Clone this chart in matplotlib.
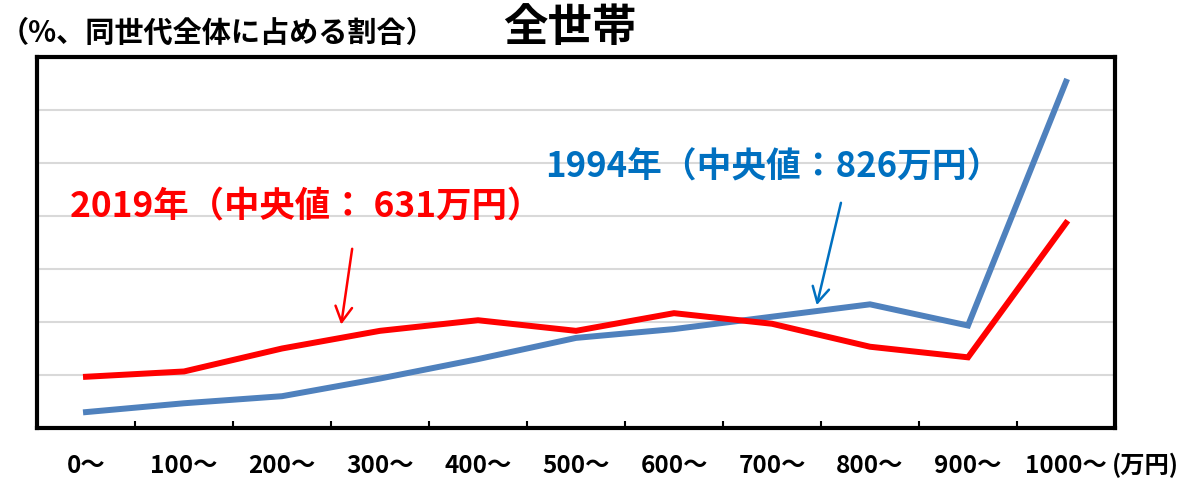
#!/usr/bin/env python

import matplotlib
matplotlib.use('Agg')
import numpy as np
import matplotlib.pyplot as plt

plt.rcParams['font.family'] = ['Noto Sans CJK JP', 'DejaVu Sans']

# income bracket labels (万円)
brackets = ['0〜', '100〜', '200〜', '300〜', '400〜', '500〜',
            '600〜', '700〜', '800〜', '900〜', '1000〜']

# share of households in each bracket (%)
share_2019 = [2.9, 3.2, 4.5, 5.5, 6.1, 5.5, 6.5, 5.9, 4.6, 4.0, 11.6]
share_1994 = [0.9, 1.4, 1.8, 2.8, 3.9, 5.1, 5.6, 6.3, 7.0, 5.8, 19.6]

label_2019 = '2019年（中央値： 631万円）'
label_1994 = '1994年（中央値：826万円）'

x = np.arange(len(brackets))

fig = plt.figure(figsize=(11.91, 4.83), dpi=100)
ax = fig.add_axes([37/1191, 55/483, 1078/1191, 371/483])

ax.plot(x, share_1994, color='#4F81BD', lw=4.3, solid_joinstyle='miter', zorder=3)
ax.plot(x, share_2019, color='#FF0000', lw=4.3, solid_joinstyle='miter', zorder=3)

ax.set_xlim(-0.5, len(brackets) - 0.5)
ax.set_ylim(0, 21)
ax.set_yticks(np.arange(3, 21, 3))
ax.yaxis.grid(True, color='#D9D9D9', lw=1.5)
ax.set_axisbelow(True)
ax.tick_params(axis='y', length=0, labelleft=False)

ax.set_xticks(x)
ax.set_xticklabels(brackets, fontsize=17.5, fontweight='bold')
ax.tick_params(axis='x', which='major', length=0, pad=19)
ax.set_xticks(x[:-1] + 0.5, minor=True)
ax.tick_params(axis='x', which='minor', direction='in', length=5, width=1.5)

for s in ax.spines.values():
    s.set_linewidth(3)

# median annotations
arrow_style = '->,head_length=1.1,head_width=0.6'
ax.annotate('', xy=(2.60, 5.7), xytext=(2.72, 10.3),
            arrowprops=dict(arrowstyle=arrow_style, color='#FF0000', lw=1.8))
ax.text(-0.16, 12.5, label_2019, color='#FF0000', fontsize=25.5,
        fontweight='bold', va='center', ha='left')

ax.annotate('', xy=(7.45, 6.8), xytext=(7.71, 12.9),
            arrowprops=dict(arrowstyle=arrow_style, color='#0070C0', lw=1.8))
ax.text(4.68, 14.8, label_1994, color='#0070C0', fontsize=25,
        fontweight='bold', va='center', ha='left')

fig.text(1112/1191, 1 - 465/483, '(万円)', fontsize=17.5, fontweight='bold',
         ha='left', va='center')
fig.text(0/1191, 1 - 33/483, '（%、同世代全体に占める割合）', fontsize=21,
         fontweight='bold', ha='left', va='center')
fig.text(570/1191, 1 - 28/483, '全世帯', fontsize=32, fontweight='bold',
         ha='center', va='center')

fig.savefig('out.png', dpi=100)
